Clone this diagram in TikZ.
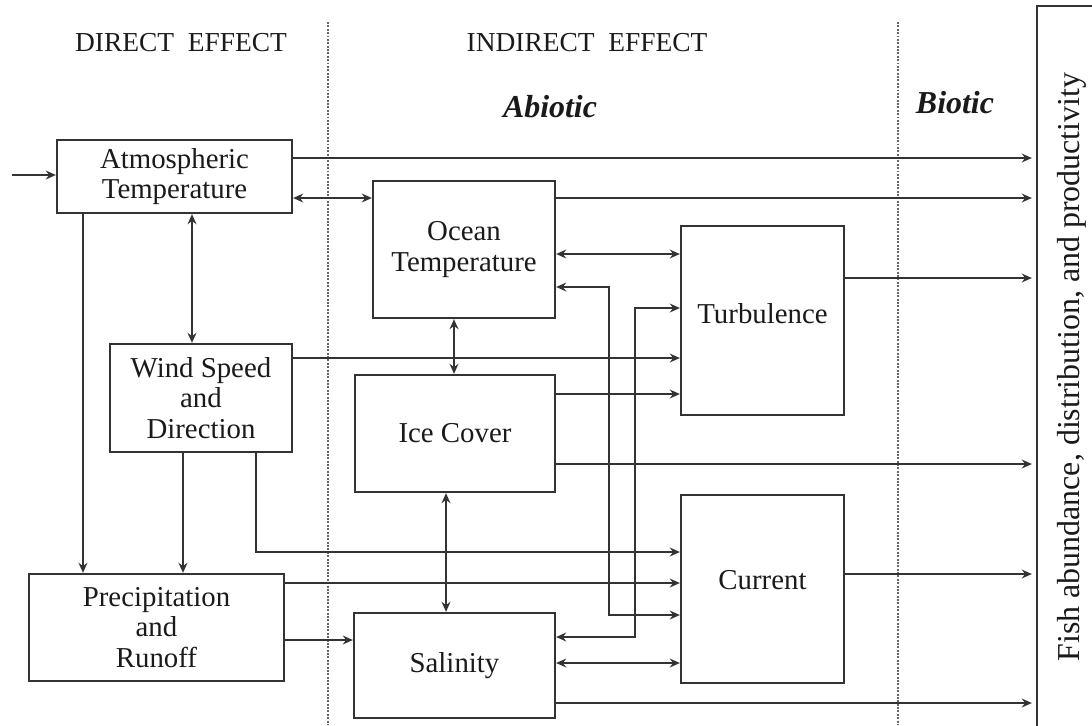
\documentclass[tikz,border=0pt]{standalone}
\usepackage{fontspec}
\setmainfont{Liberation Serif}
\usetikzlibrary{arrows.meta,calc}
\definecolor{linec}{HTML}{333333}
\definecolor{txt}{HTML}{1A1A1A}
\definecolor{sepc}{HTML}{666666}
\newcommand\boxfont{\fontsize{20.5}{21.5}\selectfont}
\newcommand\hdrfont{\fontsize{19.5}{22}\selectfont}
\newcommand\bifont{\fontsize{22.7}{26}\selectfont\bfseries\itshape}
\newcommand\fishfont{\fontsize{22.7}{26}\selectfont}
\tikzset{
  blk/.style={draw=linec,line width=1.6pt,fill=white,align=center,
              inner sep=0pt,font=\boxfont,text=txt},
  sz/.style 2 args={minimum width=#1*0.025cm,minimum height=#2*0.025cm},
  hdr/.style={inner sep=0pt,font=\hdrfont,text=txt},
  sub/.style={inner sep=0pt,font=\bifont,text=txt},
  sep/.style={draw=sepc,line width=1pt,dash pattern=on 1.4pt off 1pt},
  arr/.style={-{Stealth[length=2.5mm,width=2.2mm,inset=0.8mm]},line width=1.3pt,linec},
  darr/.style={{Stealth[length=2.5mm,width=2.2mm,inset=0.8mm]}-{Stealth[length=2.5mm,width=2.2mm,inset=0.8mm]},
               line width=1.3pt,linec},
  fisharr/.style={arr,shorten >=0.1cm}
}
\begin{document}
\begin{tikzpicture}[x=0.025cm,y=-0.025cm]
  \useasboundingbox (0,0) rectangle (1092,725);
  % column separators
  \draw[sep] (328,22) -- (328,725);
  \draw[sep] (898,22) -- (898,725);
  % headings
  \node[hdr] (dir) at (181,43) {DIRECT\ \ EFFECT};
  \node[hdr] (ind) at (587,43) {INDIRECT\ \ EFFECT};
  \node[sub] (abio) at (550,107) {Abiotic};
  \node[sub] (bio) at (955,103) {Biotic};
  % blocks
  \node[blk,sz={235}{73}] (atm) at (174.5,176.5) {Atmospheric\\Temperature};
  \node[blk,sz={182}{108}] (wind) at (201,398) {Wind Speed\\and\\Direction};
  \node[blk,sz={255}{107}] (prec) at (156.5,627.5) {Precipitation\\and\\Runoff};
  \node[blk,sz={182}{137}] (ocean) at (464,249.5) {Ocean\\Temperature};
  \node[blk,sz={200}{117}] (ice) at (455,433.5) {Ice Cover};
  \node[blk,sz={201}{105}] (sal) at (454.5,665.5) {Salinity};
  \node[blk,sz={163}{189},text depth=0.35cm] (turb) at (762.5,320.5) {Turbulence};
  \node[blk,sz={163}{188},text depth=0.45cm] (cur) at (762.5,589) {Current};
  \node[blk,sz={722}{70},rotate=90,font=\fishfont] (fish) at (1072,367)
       {Fish abundance, distribution, and productivity};
  \coordinate (src) at (12,175);
  % connectors
  \draw[arr] (src) -- (atm.west |- src);
  \draw[fisharr] (atm.east |- 0,158) -- (fish.north |- 0,158);
  \draw[darr] (atm.east |- 0,198) -- (ocean.west |- 0,198);
  \draw[darr] (atm.south -| 192,0) -- (wind.north -| 192,0);
  \draw[arr] (atm.south -| 83,0) -- (prec.north -| 83,0);
  \draw[arr] (wind.south -| 183,0) -- (prec.north -| 183,0);
  \draw[arr] (wind.south -| 256,0) |- (cur.west |- 0,552);
  \draw[arr] (wind.east |- 0,358) -- (turb.west |- 0,358);
  \draw[fisharr] (ocean.east |- 0,198) -- (fish.north |- 0,198);
  \draw[darr] (ocean.east |- 0,254) -- (turb.west |- 0,254);
  \draw[darr] (ocean.south -| 454,0) -- (ice.north -| 454,0);
  \draw[darr] (ocean.east |- 0,287) -| (609,615) -- (cur.west |- 0,615);
  \draw[darr] (sal.east |- 0,637) -| (635,308) -- (turb.west |- 0,308);
  \draw[arr] (ice.east |- 0,394) -- (turb.west |- 0,394);
  \draw[fisharr] (ice.east |- 0,464) -- (fish.north |- 0,464);
  \draw[darr] (ice.south -| 446,0) -- (sal.north -| 446,0);
  \draw[fisharr] (turb.east |- 0,278) -- (fish.north |- 0,278);
  \draw[arr] (prec.east |- 0,583) -- (cur.west |- 0,583);
  \draw[arr] (prec.east |- 0,640) -- (sal.west |- 0,640);
  \draw[darr] (sal.east |- 0,663) -- (cur.west |- 0,663);
  \draw[fisharr] (sal.east |- 0,703) -- (fish.north |- 0,703);
  \draw[fisharr] (cur.east |- 0,574) -- (fish.north |- 0,574);
\end{tikzpicture}
\end{document}
